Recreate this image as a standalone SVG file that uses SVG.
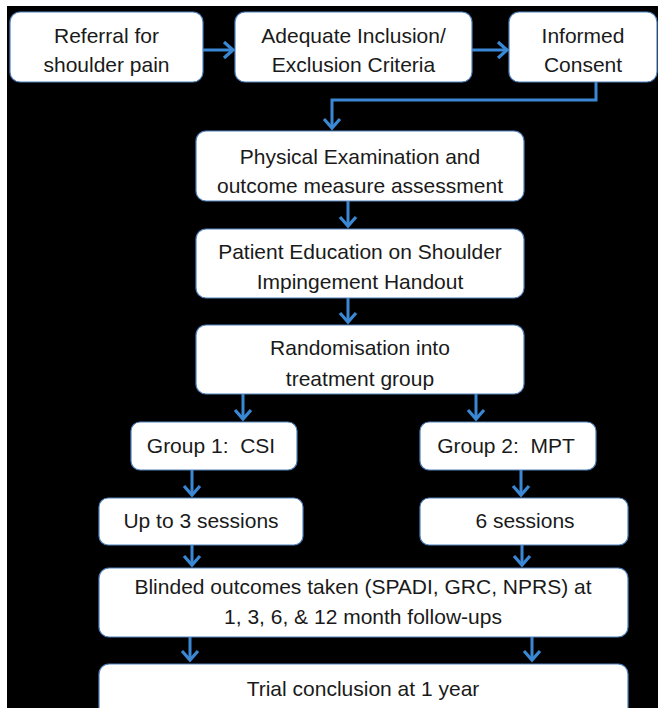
<svg xmlns="http://www.w3.org/2000/svg" width="658" height="708" viewBox="0 0 658 708">
<style>
.box{fill:#ffffff;stroke:#4f81bd;stroke-width:1.2}
.t{font-family:"Liberation Sans",Arial,sans-serif;font-size:21px;fill:#1a1a1a;text-anchor:middle}
.c{fill:none;stroke:#3a88d4;stroke-width:3}
</style>
<defs>
<marker id="ah" markerUnits="userSpaceOnUse" markerWidth="20" markerHeight="20" refX="12" refY="10" orient="auto" viewBox="0 0 20 20">
<path d="M3,2 L12,10 L3,18" fill="none" stroke="#3a88d4" stroke-width="3.2"/>
</marker>
</defs>
<rect x="0" y="0" width="658" height="708" fill="#ffffff"/>
<rect x="7" y="6" width="651" height="702" fill="#000000"/>
<g id="connectors">
<path class="c" d="M203,50 H233" marker-end="url(#ah)"/>
<path class="c" d="M472,50 H507" marker-end="url(#ah)"/>
<path class="c" d="M596,82 V100 H332 V128" marker-end="url(#ah)"/>
<path class="c" d="M348,201 V226" marker-end="url(#ah)"/>
<path class="c" d="M348,298 V322" marker-end="url(#ah)"/>
<path class="c" d="M243,394 V419" marker-end="url(#ah)"/>
<path class="c" d="M476,394 V419" marker-end="url(#ah)"/>
<path class="c" d="M192,470 V495" marker-end="url(#ah)"/>
<path class="c" d="M521,470 V495" marker-end="url(#ah)"/>
<path class="c" d="M192,545 V565" marker-end="url(#ah)"/>
<path class="c" d="M522,545 V565" marker-end="url(#ah)"/>
<path class="c" d="M190,637 V660" marker-end="url(#ah)"/>
<path class="c" d="M532,637 V660" marker-end="url(#ah)"/>
</g>
<g id="referral"><rect class="box" x="10" y="12" width="193" height="70" rx="10"/><text class="t" x="106.5" y="43">Referral for</text><text class="t" x="106.5" y="72">shoulder pain</text></g>
<g id="criteria"><rect class="box" x="235" y="12" width="237" height="70" rx="10"/><text class="t" x="353.5" y="43">Adequate Inclusion/</text><text class="t" x="353.5" y="72">Exclusion Criteria</text></g>
<g id="consent"><rect class="box" x="509" y="12" width="148" height="70" rx="10"/><text class="t" x="583" y="43">Informed</text><text class="t" x="583" y="72">Consent</text></g>
<g id="exam"><rect class="box" x="196" y="131" width="328" height="70" rx="10"/><text class="t" x="360" y="164">Physical Examination and</text><text class="t" x="360" y="193">outcome measure assessment</text></g>
<g id="education"><rect class="box" x="196" y="229" width="328" height="69" rx="10"/><text class="t" x="360" y="259">Patient Education on Shoulder</text><text class="t" x="360" y="289">Impingement Handout</text></g>
<g id="randomisation"><rect class="box" x="196" y="325" width="328" height="69" rx="10"/><text class="t" x="360" y="355">Randomisation into</text><text class="t" x="360" y="386">treatment group</text></g>
<g id="group1"><rect class="box" x="131" y="422" width="166" height="48" rx="9"/><text class="t" x="211" y="453" xml:space="preserve">Group 1:  CSI</text></g>
<g id="group2"><rect class="box" x="420" y="422" width="176" height="48" rx="9"/><text class="t" x="506" y="453" xml:space="preserve">Group 2:  MPT</text></g>
<g id="sessions1"><rect class="box" x="99" y="498" width="204" height="47" rx="9"/><text class="t" x="201" y="528">Up to 3 sessions</text></g>
<g id="sessions2"><rect class="box" x="420" y="498" width="208" height="47" rx="9"/><text class="t" x="525" y="528">6 sessions</text></g>
<g id="outcomes"><rect class="box" x="99" y="568" width="529" height="69" rx="10"/><text class="t" x="363" y="594">Blinded outcomes taken (SPADI, GRC, NPRS) at</text><text class="t" x="363" y="624">1, 3, 6, &amp; 12 month follow-ups</text></g>
<g id="conclusion"><rect class="box" x="99" y="664" width="529" height="60" rx="10"/><text class="t" x="363" y="696">Trial conclusion at 1 year</text></g>
</svg>
